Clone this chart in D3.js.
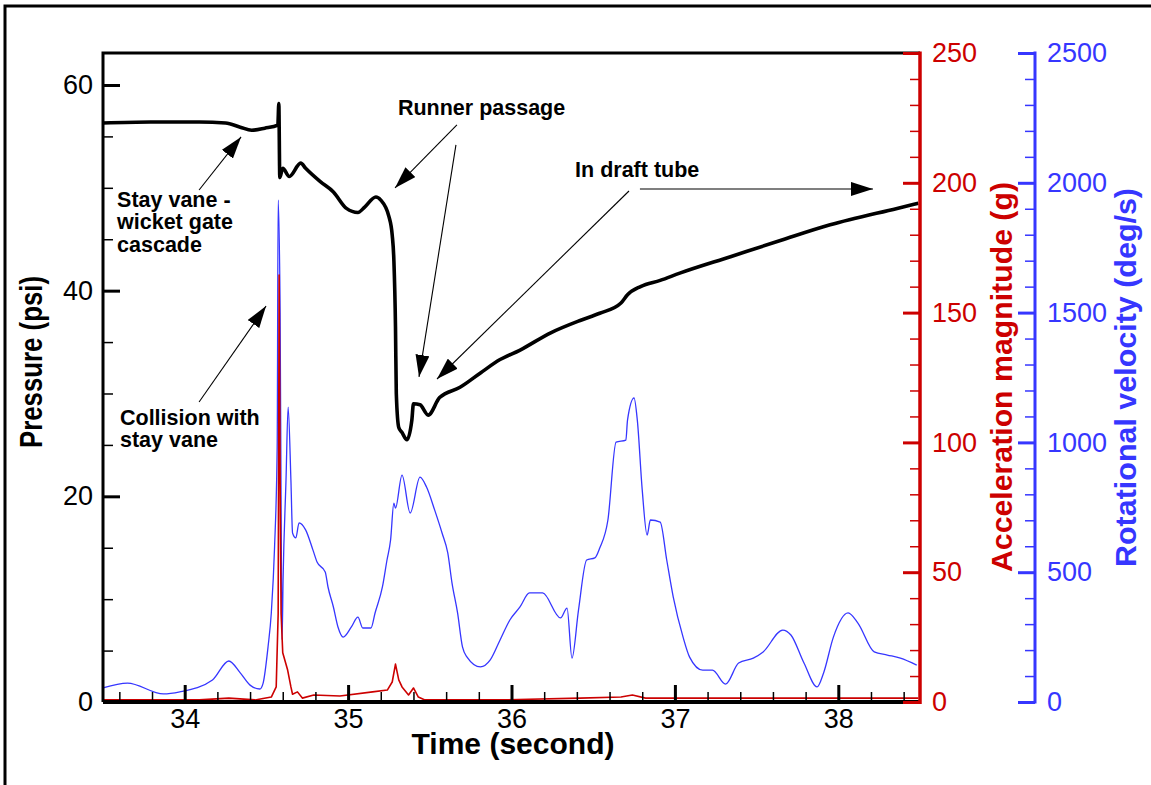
<!DOCTYPE html>
<html>
<head>
<meta charset="utf-8">
<script src="https://d3js.org/d3.v7.min.js"></script>
<style>
  body { margin: 0; background: #fff; }
  svg { display: block; font-family: "Liberation Sans", Arial, sans-serif; }
  .axis path { display: none; }
</style>
</head>
<body>
<svg id="chart" width="1151" height="785"></svg>
<script>
// Pressure (psi) trace
var pressureTime = [33.50, 33.79, 34.09, 34.25, 34.34, 34.41, 34.49, 34.57, 34.576, 34.582, 34.60, 34.64, 34.71, 34.74,
    34.83, 34.91, 34.99, 35.06, 35.10, 35.17, 35.20, 35.25, 35.27, 35.28, 35.29, 35.295, 35.31, 35.33, 35.36, 35.39,
    35.40, 35.44, 35.49, 35.56, 35.685, 35.81, 35.93, 36.05, 36.24, 36.42, 36.54, 36.67, 36.71, 36.79, 36.91,
    37.03, 37.34, 37.65, 37.95, 38.36, 38.49];
var pressure = [56.3, 56.4, 56.4, 56.3, 55.9, 55.6, 55.8, 56.1, 58.2, 51.0, 51.9, 51.1, 52.4, 51.9,
    50.6, 49.6, 48.0, 47.6, 48.1, 49.1, 48.8, 47.2, 45.4, 43.0, 36.5, 30.0, 26.7, 26.2, 25.5, 27.4,
    29.0, 28.9, 27.9, 29.6, 30.6, 32.0, 33.3, 34.2, 35.9, 37.1, 37.8, 38.8, 39.6, 40.4, 41.0,
    41.7, 43.3, 44.9, 46.4, 48.0, 48.5];

// Acceleration magnitude (g)
var accelTime = [33.50, 34.09, 34.27, 34.43, 34.53, 34.56, 34.572, 34.578, 34.584, 34.59, 34.60, 34.63, 34.65, 34.66,
    34.69, 34.72, 34.79, 34.95, 35.15, 35.24, 35.27, 35.29, 35.31, 35.33, 35.37, 35.40, 35.43, 35.47, 35.93,
    36.42, 36.67, 36.74, 36.82, 37.46, 38.49];
var accel = [0.8, 0.8, 1.5, 0.8, 1.9, 5.8, 34, 164.5, 85.5, 34, 19, 12.3, 5.8, 3.0,
    3.9, 1.5, 2.7, 2.3, 3.9, 4.6, 7.7, 14.6, 8.5, 5.8, 2.7, 5.4, 1.9, 0.8, 0.8,
    1.5, 1.9, 2.7, 1.5, 1.5, 1.5];

// Rotational velocity (deg/s)
var rotTime = [33.50, 33.65, 33.87, 33.97, 34.17, 34.27, 34.34, 34.40, 34.46, 34.48,
    34.51, 34.53, 34.55, 34.566, 34.572, 34.584, 34.59, 34.596, 34.602, 34.62,
    34.633, 34.65, 34.66, 34.68, 34.70, 34.74, 34.785, 34.81, 34.86, 34.877,
    34.91, 34.938, 34.97, 35.02, 35.06, 35.09, 35.14, 35.165, 35.21, 35.238,
    35.26, 35.28, 35.29, 35.33, 35.38, 35.44, 35.48, 35.53, 35.575, 35.61,
    35.636, 35.67, 35.70, 35.728, 35.81, 35.87, 35.93, 35.99, 36.052, 36.11,
    36.19, 36.30, 36.34, 36.37, 36.41, 36.46, 36.51, 36.54, 36.59, 36.64,
    36.70, 36.71, 36.75, 36.77, 36.80, 36.83, 36.85, 36.91, 36.95, 36.99,
    37.05, 37.09, 37.17, 37.23, 37.31, 37.39, 37.48, 37.54, 37.66, 37.71,
    37.79, 37.87, 37.91, 37.97, 38.06, 38.12, 38.22, 38.30, 38.38, 38.48];
var rot = [54, 73, 31, 39, 85, 158, 112, 65, 50, 73,
    212, 343, 597, 982, 1934, 1498, 728, 239, 470, 855,
    1136, 855, 651, 632, 690, 663, 585, 539, 501, 443,
    366, 289, 250, 289, 327, 285, 285, 343, 443, 547,
    624, 766, 747, 874, 728, 866, 828, 739, 651, 574,
    458, 343, 212, 173, 135, 162, 239, 316, 366, 420,
    420, 324, 362, 169, 354, 547, 555, 593, 701, 1001,
    1009, 1086, 1171, 1086, 817, 643, 701, 693, 547, 404,
    250, 173, 123, 123, 69, 150, 169, 193, 277, 258,
    150, 58, 112, 250, 343, 304, 193, 181, 169, 142];

// Tick values
var timeTicks = [34, 35, 36, 37, 38];
var pressureTicks = [0, 20, 40, 60];
var accelTicks = [0, 50, 100, 150, 200, 250];
var rotTicks = [0, 500, 1000, 1500, 2000, 2500];

// Annotations: [label lines, time, pressure]
var notes = [
    [["Stay vane -", "wicket gate", "cascade"], 33.586, 48.14],
    [["Collision with", "stay vane"], 33.604, 26.94],
    [["Runner passage"], 35.305, 57.08],
    [["In draft tube"], 36.389, 51.06]
];
// Arrows: [fromTime, fromPressure, toTime, toPressure]
var arrows = [
    [34.088, 49.79, 34.345, 54.95],
    [34.088, 29.17, 34.498, 38.51],
    [35.666, 56.11, 35.287, 49.99],
    [35.660, 54.17, 35.434, 31.61],
    [36.719, 49.69, 35.544, 31.41],
    [36.786, 49.89, 38.212, 49.89]
];

var red = "#cc0000",
    blue = "#3636ff";

// Plot box
var boxLeft = 103, boxRight = 920, boxTop = 53, boxBottom = 702;

var svg = d3.select("#chart");

// Scales
var x = d3.scaleLinear().domain([33.5, 38.5]).range([boxLeft, boxRight]);
var yP = d3.scaleLinear().domain([0, 63.11]).range([boxBottom, boxTop]);
var yA = d3.scaleLinear().domain([0, 250]).range([boxBottom, boxTop]);
var yR = d3.scaleLinear().domain([0, 2500]).range([boxBottom, boxTop]);

// Outer frame (only left and top edges fall inside the picture)
svg.append("path")
    .attr("d", "M5,785V6H1151")
    .attr("fill", "none")
    .attr("stroke", "#000")
    .attr("stroke-width", 3);

// Lines
function series(xs, ys, yScale, colour, width, curve) {
    var pts = xs.map(function(t, i) { return [t, ys[i]]; });
    svg.append("path")
        .datum(pts)
        .attr("fill", "none")
        .attr("stroke", colour)
        .attr("stroke-width", width)
        .attr("stroke-linejoin", "round")
        .attr("d", d3.line()
            .curve(curve)
            .x(function(d) { return x(d[0]); })
            .y(function(d) { return yScale(d[1]); }));
}
series(rotTime, rot, yR, blue, 1.3, d3.curveMonotoneX);
series(accelTime, accel, yA, red, 1.6, d3.curveLinear);
series(pressureTime, pressure, yP, "#000", 3.6, d3.curveMonotoneX);

// Axis helper
function styleAxis(g, colour, width, fontSize) {
    g.selectAll("line").attr("stroke", colour).attr("stroke-width", width);
    g.selectAll("text")
        .attr("fill", colour)
        .style("font-size", fontSize + "px");
}

// X axis minor + major
svg.append("g")
    .attr("class", "axis")
    .attr("transform", "translate(0," + boxBottom + ")")
    .call(d3.axisBottom(x).tickValues(d3.range(33.6, 38.5, 0.2)).tickSize(-10).tickFormat(""))
    .call(styleAxis, "#000", 1.5, 27);
svg.append("g")
    .attr("class", "axis")
    .attr("transform", "translate(0," + boxBottom + ")")
    .call(d3.axisBottom(x).tickValues(timeTicks).tickSize(-17).tickPadding(7).tickFormat(d3.format("d")))
    .call(styleAxis, "#000", 3, 27);

// Left pressure axis
svg.append("g")
    .attr("class", "axis")
    .attr("transform", "translate(" + boxLeft + ",0)")
    .call(d3.axisLeft(yP).tickValues(d3.range(5, 63, 5)).tickSize(-10).tickFormat(""))
    .call(styleAxis, "#000", 1.5, 27);
svg.append("g")
    .attr("class", "axis")
    .attr("transform", "translate(" + boxLeft + ",0)")
    .call(d3.axisLeft(yP).tickValues(pressureTicks).tickSize(-17).tickPadding(10).tickFormat(d3.format("d")))
    .call(styleAxis, "#000", 3, 27);

// Plot frame (left, top, bottom)
svg.append("path")
    .attr("d", "M" + boxRight + "," + boxTop + "H" + boxLeft + "V" + boxBottom)
    .attr("fill", "none")
    .attr("stroke", "#000")
    .attr("stroke-width", 3);
svg.append("line")
    .attr("x1", boxLeft).attr("x2", boxRight)
    .attr("y1", boxBottom).attr("y2", boxBottom)
    .attr("stroke", "#000")
    .attr("stroke-width", 4);

// Red acceleration axis
svg.append("g")
    .attr("class", "axis")
    .attr("transform", "translate(" + boxRight + ",0)")
    .call(d3.axisRight(yA).tickValues(d3.range(10, 250, 10)).tickSize(-10).tickFormat(""))
    .call(styleAxis, red, 1.5, 27);
svg.append("g")
    .attr("class", "axis")
    .attr("transform", "translate(" + boxRight + ",0)")
    .call(d3.axisRight(yA).tickValues(accelTicks).tickSize(-17).tickPadding(12).tickFormat(d3.format("d")))
    .call(styleAxis, red, 3, 27);
svg.append("line")
    .attr("x1", boxRight).attr("x2", boxRight)
    .attr("y1", boxTop - 1.5).attr("y2", boxBottom + 2)
    .attr("stroke", red)
    .attr("stroke-width", 3.5);

// Blue rotational velocity axis
var blueX = 1035;
svg.append("g")
    .attr("class", "axis")
    .attr("transform", "translate(" + blueX + ",0)")
    .call(d3.axisRight(yR).tickValues(d3.range(100, 2500, 100)).tickSize(-10).tickFormat(""))
    .call(styleAxis, blue, 1.5, 27);
svg.append("g")
    .attr("class", "axis")
    .attr("transform", "translate(" + blueX + ",0)")
    .call(d3.axisRight(yR).tickValues(rotTicks).tickSize(-17).tickPadding(12).tickFormat(d3.format("d")))
    .call(styleAxis, blue, 3, 27);
svg.append("line")
    .attr("x1", blueX).attr("x2", blueX)
    .attr("y1", boxTop - 1.5).attr("y2", boxBottom + 1.5)
    .attr("stroke", blue)
    .attr("stroke-width", 3);

// Axis titles
function title(txt, tx, ty, rotate, size, len, colour) {
    svg.append("text")
        .attr("transform", "translate(" + tx + "," + ty + ")" + (rotate ? "rotate(-90)" : ""))
        .attr("text-anchor", "middle")
        .attr("font-weight", "bold")
        .attr("textLength", len)
        .attr("lengthAdjust", "spacingAndGlyphs")
        .style("font-size", size + "px")
        .attr("fill", colour)
        .text(txt);
}
title("Time (second)", 513, 754, false, 29, 203, "#000");
title("Pressure (psi)", 42, 362, true, 31, 172, "#000");
title("Acceleration magnitude (g)", 1012, 377, true, 29, 390, red);
title("Rotational velocity (deg/s)", 1136, 377.5, true, 30, 379, blue);

// Arrows
svg.append("defs").append("marker")
    .attr("id", "head")
    .attr("viewBox", "0 0 22 14")
    .attr("refX", 22)
    .attr("refY", 7)
    .attr("markerWidth", 22)
    .attr("markerHeight", 14)
    .attr("markerUnits", "userSpaceOnUse")
    .attr("orient", "auto")
    .append("path")
    .attr("d", "M0,0L22,7L0,14Z")
    .attr("fill", "#000");

svg.selectAll(".arrow")
    .data(arrows)
    .enter()
    .append("line")
    .attr("class", "arrow")
    .attr("x1", function(d) { return x(d[0]); })
    .attr("y1", function(d) { return yP(d[1]); })
    .attr("x2", function(d) { return x(d[2]); })
    .attr("y2", function(d) { return yP(d[3]); })
    .attr("stroke", "#000")
    .attr("stroke-width", 1.1)
    .attr("marker-end", "url(#head)");

// Annotation labels
var note = svg.selectAll(".note")
    .data(notes)
    .enter()
    .append("text")
    .attr("class", "note")
    .attr("x", function(d) { return x(d[1]); })
    .attr("y", function(d) { return yP(d[2]); })
    .attr("font-weight", "bold")
    .style("font-size", "21.5px")
    .attr("fill", "#000");

note.selectAll("tspan")
    .data(function(d) { return d[0].map(function(s) { return [s, x(d[1])]; }); })
    .enter()
    .append("tspan")
    .attr("x", function(d) { return d[1]; })
    .attr("dy", function(d, i) { return i ? 22.5 : 0; })
    .text(function(d) { return d[0]; });
</script>
</body>
</html>
